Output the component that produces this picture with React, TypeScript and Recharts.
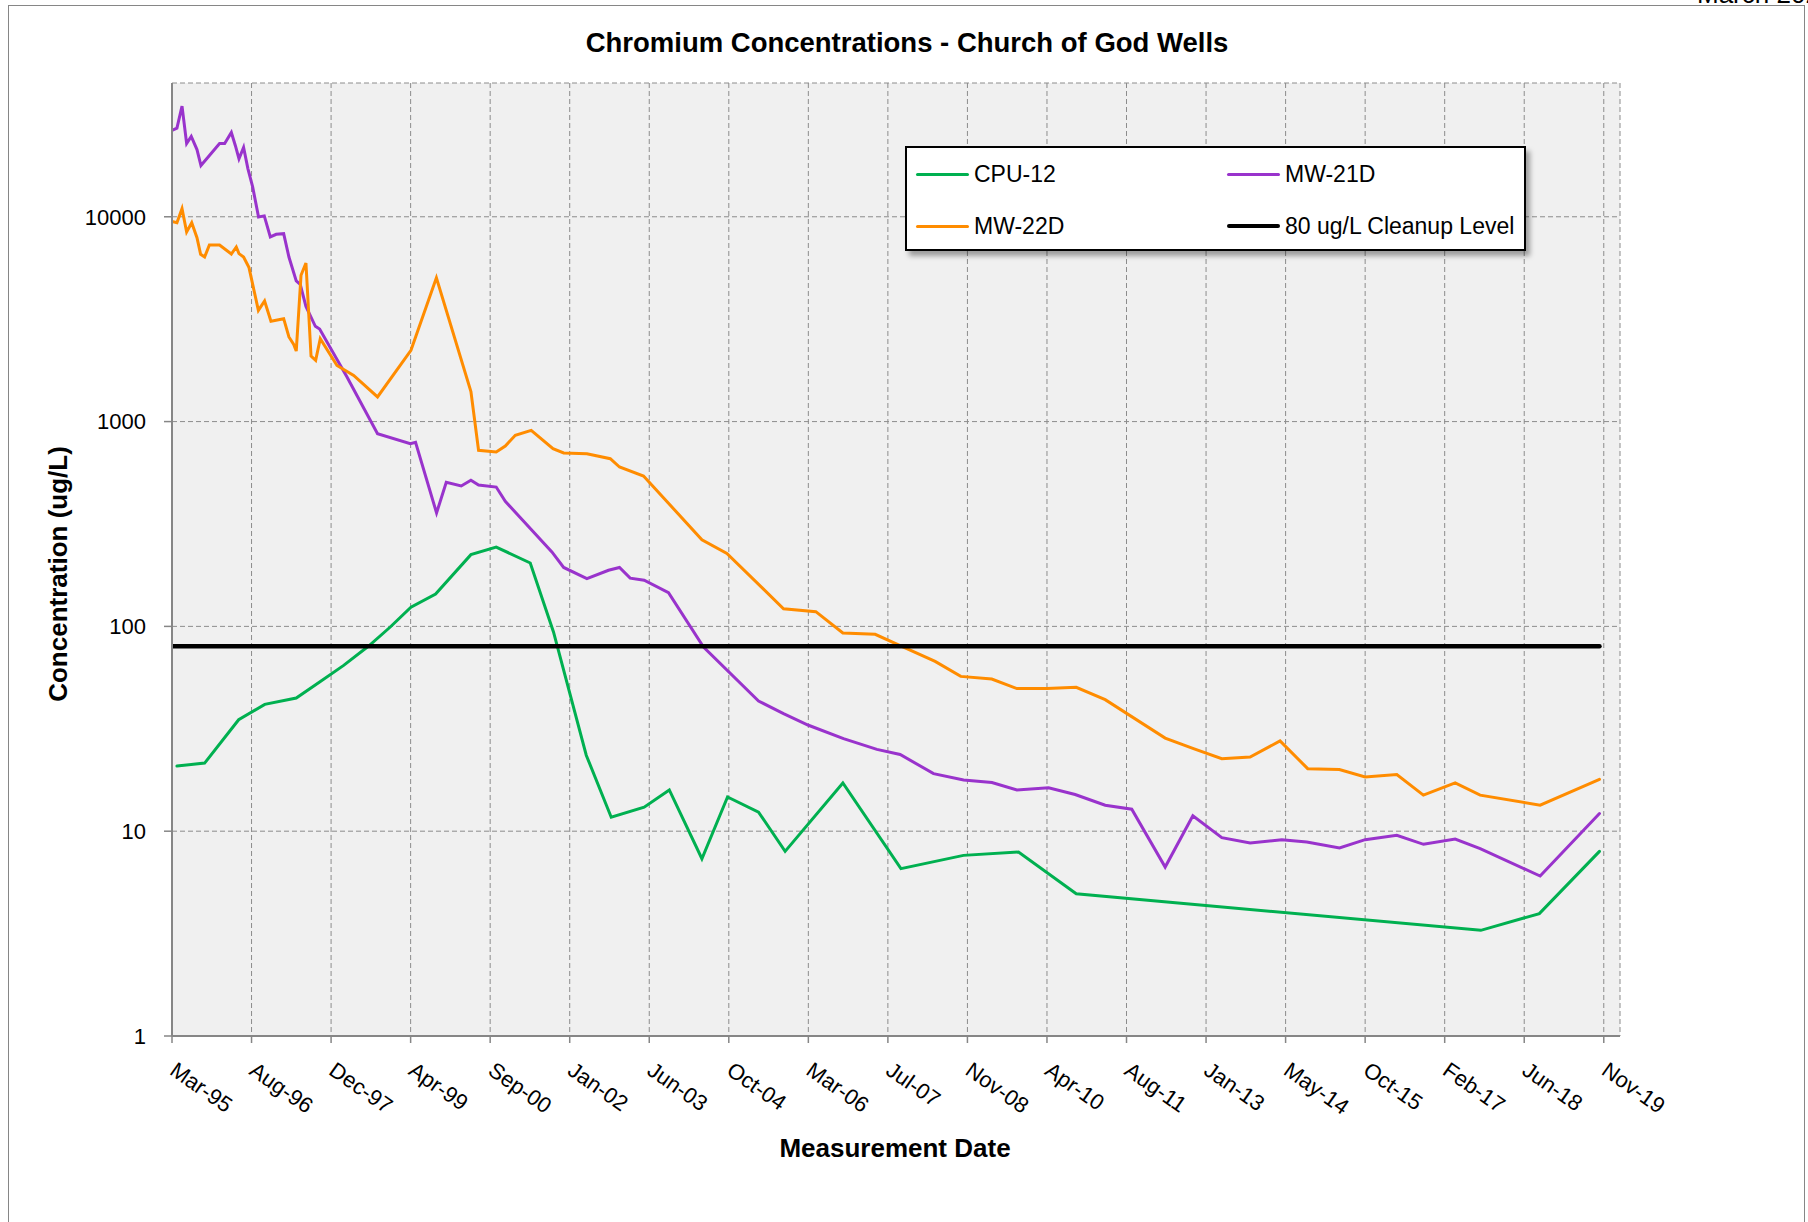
import React from "react"
import { LineChart, Line, XAxis, YAxis, CartesianGrid, Legend } from "recharts"

const DAY = 86400000
const START = Date.UTC(1995, 2, 20)
const END = START + 9102 * DAY

const tickLabels = [
  "Mar-95", "Aug-96", "Dec-97", "Apr-99", "Sep-00", "Jan-02", "Jun-03", "Oct-04", "Mar-06", "Jul-07",
  "Nov-08", "Apr-10", "Aug-11", "Jan-13", "May-14", "Oct-15", "Feb-17", "Jun-18", "Nov-19",
]
const yTicks = [1, 10, 100, 1000, 10000]

// [sample date, ug/L]
const cpu12: [string, number][] = [
  ["1995-04-20", 20.8], ["1995-10-11", 21.5], ["1996-05-12", 35], ["1996-10-23", 41.6],
  ["1997-05-09", 44.7], ["1997-10-03", 53.5], ["1998-03-03", 64.5], ["1998-08-07", 80.2],
  ["1998-12-21", 99.3], ["1999-04-30", 124], ["1999-10-02", 144], ["2000-05-11", 224],
  ["2000-10-17", 244], ["2001-05-19", 204], ["2001-10-12", 93.9], ["2002-05-06", 23.5],
  ["2002-10-10", 11.7], ["2003-05-05", 13.1], ["2003-10-10", 15.9], ["2004-05-02", 7.34],
  ["2004-10-10", 14.7], ["2005-04-23", 12.4], ["2005-10-07", 7.97], ["2006-10-05", 17.2],
  ["2007-10-05", 6.56], ["2008-11-01", 7.62], ["2009-10-13", 7.91], ["2010-10-11", 4.95],
  ["2017-09-27", 3.28], ["2018-09-30", 3.96], ["2019-10-13", 7.97],
]

const mw21d: [string, number][] = [
  ["1995-03-20", 26400], ["1995-04-20", 27100], ["1995-05-22", 34700], ["1995-06-20", 22800],
  ["1995-07-19", 24700], ["1995-08-24", 21300], ["1995-09-18", 17800], ["1996-01-13", 22800],
  ["1996-02-14", 22800], ["1996-03-27", 25800], ["1996-04-21", 22300], ["1996-05-14", 19200],
  ["1996-06-12", 21800], ["1996-07-09", 17200], ["1996-08-08", 14000], ["1996-09-14", 9980],
  ["1996-10-20", 10100], ["1996-11-27", 7970], ["1997-01-03", 8210], ["1997-02-19", 8270],
  ["1997-03-24", 6360], ["1997-05-09", 4860], ["1997-06-03", 4680], ["1997-07-09", 3650],
  ["1997-09-06", 2920], ["1997-10-03", 2830], ["1998-03-24", 1650], ["1998-10-02", 873],
  ["1999-04-26", 780], ["1999-05-29", 792], ["1999-10-08", 358], ["1999-12-08", 505],
  ["2000-03-11", 485], ["2000-05-11", 517], ["2000-06-28", 490], ["2000-10-17", 479],
  ["2000-12-13", 408], ["2001-10-02", 231], ["2001-12-15", 194], ["2002-05-10", 171],
  ["2002-09-23", 188], ["2002-12-01", 194], ["2003-02-06", 172], ["2003-05-05", 168],
  ["2003-10-05", 146], ["2004-05-12", 79.3], ["2005-04-23", 43.2], ["2005-09-27", 37.5],
  ["2006-03-03", 32.9], ["2006-10-09", 28.3], ["2007-05-07", 25.1], ["2007-09-30", 23.7],
  ["2008-04-27", 19.1], ["2008-11-02", 17.8], ["2009-04-29", 17.3], ["2009-10-03", 15.9],
  ["2010-04-20", 16.3], ["2010-10-04", 15.1], ["2011-04-11", 13.4], ["2011-09-25", 12.8],
  ["2012-04-22", 6.68], ["2012-10-13", 11.9], ["2013-04-13", 9.3], ["2013-10-08", 8.76],
  ["2014-04-25", 9.09], ["2014-09-29", 8.86], ["2015-04-23", 8.28], ["2015-10-01", 9.09],
  ["2016-04-17", 9.55], ["2016-10-02", 8.63], ["2017-04-19", 9.16], ["2017-09-23", 8.22],
  ["2018-10-05", 6.04], ["2019-10-13", 12.2],
]

const mw22d: [string, number][] = [
  ["1995-03-20", 9500], ["1995-04-20", 9350], ["1995-05-22", 10960], ["1995-06-20", 8430],
  ["1995-07-22", 9350], ["1995-08-24", 7910], ["1995-09-16", 6560], ["1995-10-11", 6360],
  ["1995-11-10", 7280], ["1996-01-13", 7280], ["1996-03-27", 6580], ["1996-04-27", 7120],
  ["1996-05-14", 6610], ["1996-06-12", 6360], ["1996-07-16", 5650], ["1996-09-13", 3490],
  ["1996-10-22", 3880], ["1996-12-01", 3090], ["1997-02-19", 3180], ["1997-03-24", 2590],
  ["1997-04-23", 2380], ["1997-05-09", 2210], ["1997-06-08", 5180], ["1997-07-09", 5950],
  ["1997-08-10", 2090], ["1997-09-08", 1990], ["1997-10-07", 2540], ["1998-01-20", 1880],
  ["1998-05-05", 1680], ["1998-10-02", 1320], ["1999-04-30", 2230], ["1999-10-07", 5040],
  ["2000-05-11", 1400], ["2000-06-28", 724], ["2000-10-17", 711], ["2000-12-13", 760],
  ["2001-02-14", 857], ["2001-05-25", 906], ["2001-10-09", 738], ["2001-12-15", 703],
  ["2002-05-10", 697], ["2002-10-04", 659], ["2002-12-01", 600], ["2003-05-01", 542],
  ["2004-05-02", 265], ["2004-10-06", 227], ["2005-09-27", 122], ["2006-04-18", 118],
  ["2006-10-05", 92.9], ["2007-04-26", 91.5], ["2007-10-21", 79.3], ["2008-05-07", 67.5],
  ["2008-10-15", 57], ["2009-04-28", 55.3], ["2009-10-03", 49.7], ["2010-04-09", 49.7],
  ["2010-10-11", 50.4], ["2011-04-11", 43.9], ["2012-04-22", 28.5], ["2012-10-17", 25.3],
  ["2013-04-13", 22.6], ["2013-10-08", 23], ["2014-04-14", 27.6], ["2014-10-05", 20.2],
  ["2015-04-22", 20], ["2015-10-01", 18.4], ["2016-04-17", 18.9], ["2016-10-01", 15],
  ["2017-04-19", 17.2], ["2017-09-23", 15], ["2018-10-05", 13.4], ["2019-10-13", 17.9],
]

const cleanup: [string, number][] = [["1995-03-20", 80], ["2019-10-13", 80]]

const toPoints = (rows: [string, number][]) => rows.map(([d, v]) => ({ t: Date.parse(d), v }))

const series = [
  { name: "CPU-12", rows: cpu12, color: "#00b050", width: 3 },
  { name: "MW-21D", rows: mw21d, color: "#9933cc", width: 3 },
  { name: "MW-22D", rows: mw22d, color: "#ff8c00", width: 3 },
  { name: "80 ug/L Cleanup Level", rows: cleanup, color: "#000000", width: 4.5 },
]

const xTicks = tickLabels.map((_, i) => START + i * 500 * DAY)

const FONT = "'Liberation Sans', Arial, sans-serif"
const AXIS = "#868686"

function DateTick(props: any) {
  const { x, y, index } = props
  const tx = x + 6
  return (
    <text
      x={tx}
      y={y}
      dy="0.75em"
      transform={`rotate(35, ${tx}, ${y})`}
      textAnchor="start"
      fontSize={22}
      fontFamily={FONT}
      fill="#000"
    >
      {tickLabels[index]}
    </text>
  )
}

function LegendBox() {
  // 2 x 2 grid, row-major like the Excel legend
  const cells = [
    { left: 9, top: 0 },
    { left: 320, top: 0 },
    { left: 9, top: 52 },
    { left: 320, top: 52 },
  ]
  return (
    <div
      style={{
        position: "relative",
        width: 621,
        height: 105,
        boxSizing: "border-box",
        border: "2.5px solid #000",
        background: "#fff",
        boxShadow: "4px 5px 5px rgba(0,0,0,0.35)",
        fontFamily: FONT,
        fontSize: 23,
      }}
    >
      {series.map((s, i) => (
        <div
          key={s.name}
          style={{
            position: "absolute",
            left: cells[i].left,
            top: cells[i].top,
            height: 52,
            display: "flex",
            alignItems: "center",
            whiteSpace: "nowrap",
          }}
        >
          <span
            style={{
              display: "inline-block",
              width: 53,
              height: s.width,
              background: s.color,
              borderRadius: 2,
              marginRight: 5,
            }}
          />
          <span>{s.name}</span>
        </div>
      ))}
    </div>
  )
}

export default function App() {
  return (
    <div
      style={{
        position: "absolute",
        top: 0,
        left: 0,
        width: 1808,
        height: 1222,
        overflow: "hidden",
        background: "#fff",
        fontFamily: FONT,
      }}
    >
      <div
        style={{
          position: "absolute",
          left: 8,
          top: 5,
          width: 1797,
          height: 1300,
          boxSizing: "border-box",
          borderTop: `1.5px solid ${AXIS}`,
          borderLeft: `1.5px solid ${AXIS}`,
          borderRight: `1.5px solid ${AXIS}`,
        }}
      />
      {/* page header, cut off at the top edge as in the source page */}
      <div style={{ position: "absolute", left: 1697, top: -19, fontSize: 26, lineHeight: "26px", whiteSpace: "nowrap" }}>
        March 2020
      </div>

      <LineChart width={1808} height={1222} margin={{ top: 83, right: 188, bottom: 86, left: 0 }}>
        <CartesianGrid strokeDasharray="5 3" stroke="#8c8c8c" fill="#f0f0f0" fillOpacity={1} />
        <XAxis
          dataKey="t"
          type="number"
          scale="linear"
          domain={[START, END]}
          allowDataOverflow
          ticks={xTicks}
          interval={0}
          height={100}
          tick={<DateTick />}
          tickSize={7}
          tickMargin={17}
          axisLine={{ stroke: AXIS, strokeWidth: 2 }}
          tickLine={{ stroke: AXIS, strokeWidth: 1.5 }}
        />
        <YAxis
          type="number"
          scale="log"
          domain={[1, 45000]}
          allowDataOverflow
          ticks={yTicks}
          interval={0}
          width={172}
          tickSize={8}
          tickMargin={18}
          tick={{ fontSize: 22, fontFamily: FONT, fill: "#000" }}
          axisLine={{ stroke: AXIS, strokeWidth: 2 }}
          tickLine={{ stroke: AXIS, strokeWidth: 1.5 }}
        />
        {series.map((s) => (
          <Line
            key={s.name}
            name={s.name}
            data={toPoints(s.rows)}
            dataKey="v"
            type="linear"
            stroke={s.color}
            strokeWidth={s.width}
            strokeLinecap="round"
            dot={false}
            activeDot={false}
            isAnimationActive={false}
          />
        ))}
        <Legend
          layout="horizontal"
          verticalAlign="middle"
          align="center"
          wrapperStyle={{ left: 905, top: 146, width: 621, height: 105 }}
          content={() => <LegendBox />}
        />
      </LineChart>

      <div
        style={{
          position: "absolute",
          left: 907,
          top: 29,
          transform: "translateX(-50%)",
          fontSize: 27.5,
          lineHeight: "27px",
          fontWeight: "bold",
          whiteSpace: "nowrap",
        }}
      >
        Chromium Concentrations - Church of God Wells
      </div>
      <div
        style={{
          position: "absolute",
          left: 895,
          top: 1135,
          transform: "translateX(-50%)",
          fontSize: 26,
          lineHeight: "26px",
          fontWeight: "bold",
          whiteSpace: "nowrap",
        }}
      >
        Measurement Date
      </div>
      <div
        style={{
          position: "absolute",
          left: 58,
          top: 574,
          transform: "translate(-50%, -50%) rotate(-90deg)",
          fontSize: 26,
          lineHeight: "26px",
          fontWeight: "bold",
          whiteSpace: "nowrap",
        }}
      >
        Concentration (ug/L)
      </div>
    </div>
  )
}
